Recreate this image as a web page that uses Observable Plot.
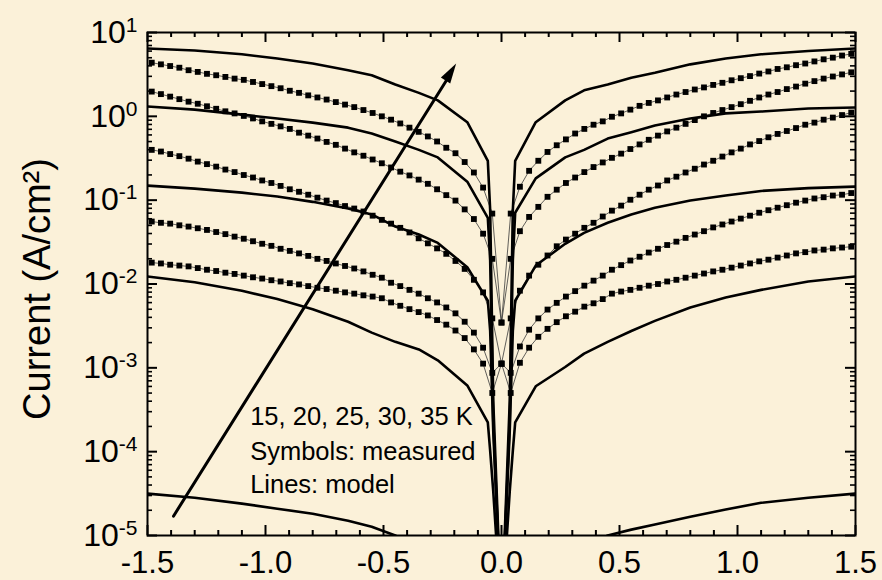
<!DOCTYPE html>
<html>
<head>
<meta charset="utf-8">
<script src="https://cdn.jsdelivr.net/npm/d3@7"></script>
<script src="https://cdn.jsdelivr.net/npm/@observablehq/plot@0.6"></script>
<style>
  html, body { margin: 0; padding: 0; background: #FBF1D9; }
  #chart svg { display: block; }
</style>
</head>
<body>
<div id="chart"></div>
<script>
// ---------------- DATA ----------------
// Bias grid of the measured points (V); the left branch uses -vMeas[k]
const vMeas = [0, 0.039, 0.078, 0.117, 0.156, 0.195, 0.234, 0.273, 0.312, 0.351, 0.39, 0.429, 0.468, 0.507, 0.546, 0.585, 0.624, 0.663, 0.702, 0.741, 0.78, 0.819, 0.858, 0.897, 0.936, 0.975, 1.014, 1.053, 1.092, 1.131, 1.17, 1.209, 1.248, 1.287, 1.326, 1.365, 1.404, 1.443, 1.482];

// Measured current density, log10(A/cm^2), negative-bias branch (index = k of vMeas)
const meas35Left = [-2.46, -1.16, -0.85, -0.67, -0.545, -0.44, -0.375, -0.30, -0.24, -0.185, -0.135, -0.085, -0.04, 0.0, 0.04, 0.075, 0.11, 0.14, 0.17, 0.20, 0.225, 0.25, 0.28, 0.305, 0.335, 0.36, 0.385, 0.41, 0.435, 0.45, 0.47, 0.49, 0.507, 0.53, 0.55, 0.58, 0.60, 0.62, 0.64];
const meas30Left = [-2.46, -1.70, -1.40, -1.225, -1.11, -1.005, -0.94, -0.87, -0.805, -0.755, -0.705, -0.66, -0.61, -0.56, -0.515, -0.47, -0.43, -0.385, -0.34, -0.305, -0.265, -0.23, -0.195, -0.15, -0.12, -0.09, -0.06, -0.025, 0.005, 0.035, 0.06, 0.09, 0.12, 0.15, 0.175, 0.205, 0.235, 0.265, 0.295];
const meas25Left = [-2.95, -2.41, -2.10, -1.95, -1.82, -1.725, -1.64, -1.575, -1.515, -1.455, -1.385, -1.33, -1.28, -1.235, -1.185, -1.135, -1.10, -1.07, -1.035, -1.005, -0.97, -0.935, -0.90, -0.87, -0.83, -0.795, -0.765, -0.73, -0.70, -0.665, -0.635, -0.60, -0.57, -0.54, -0.505, -0.475, -0.45, -0.42, -0.40];
const meas20Left = [-2.95, -3.06, -2.76, -2.58, -2.45, -2.35, -2.28, -2.22, -2.17, -2.115, -2.07, -2.025, -1.985, -1.925, -1.89, -1.85, -1.815, -1.785, -1.755, -1.725, -1.70, -1.665, -1.635, -1.605, -1.58, -1.545, -1.52, -1.49, -1.46, -1.435, -1.405, -1.38, -1.355, -1.335, -1.315, -1.30, -1.28, -1.27, -1.255];
const meas15Left = [-2.95, -3.30, -2.95, -2.78, -2.645, -2.555, -2.485, -2.43, -2.375, -2.335, -2.30, -2.26, -2.22, -2.17, -2.15, -2.135, -2.115, -2.10, -2.08, -2.06, -2.045, -2.025, -2.005, -1.99, -1.97, -1.955, -1.935, -1.92, -1.90, -1.88, -1.865, -1.845, -1.83, -1.81, -1.79, -1.78, -1.77, -1.755, -1.745];

// Measured current density, log10(A/cm^2), positive-bias branch
const meas35Right = [-2.46, -1.16, -0.84, -0.65, -0.53, -0.425, -0.345, -0.275, -0.205, -0.15, -0.10, -0.06, -0.005, 0.035, 0.08, 0.125, 0.16, 0.19, 0.225, 0.26, 0.29, 0.32, 0.345, 0.375, 0.40, 0.43, 0.455, 0.48, 0.51, 0.535, 0.565, 0.585, 0.61, 0.63, 0.655, 0.68, 0.70, 0.725, 0.745];
const meas30Right = [-2.46, -1.70, -1.37, -1.20, -1.08, -0.96, -0.875, -0.795, -0.73, -0.665, -0.605, -0.55, -0.495, -0.445, -0.39, -0.335, -0.28, -0.23, -0.18, -0.135, -0.09, -0.045, 0.0, 0.04, 0.075, 0.11, 0.145, 0.185, 0.225, 0.26, 0.29, 0.325, 0.355, 0.39, 0.42, 0.45, 0.475, 0.50, 0.525];
const meas25Right = [-2.95, -2.41, -2.08, -1.90, -1.77, -1.66, -1.55, -1.47, -1.40, -1.33, -1.27, -1.195, -1.125, -1.065, -0.995, -0.935, -0.875, -0.825, -0.765, -0.72, -0.67, -0.625, -0.575, -0.53, -0.48, -0.43, -0.385, -0.335, -0.295, -0.25, -0.21, -0.175, -0.14, -0.10, -0.075, -0.04, -0.015, 0.015, 0.045];
const meas20Right = [-2.95, -3.06, -2.745, -2.545, -2.41, -2.305, -2.225, -2.15, -2.085, -2.02, -1.96, -1.90, -1.83, -1.775, -1.72, -1.675, -1.625, -1.58, -1.535, -1.495, -1.45, -1.41, -1.37, -1.325, -1.29, -1.255, -1.22, -1.185, -1.15, -1.12, -1.09, -1.06, -1.03, -1.005, -0.98, -0.965, -0.945, -0.935, -0.915];
const meas15Right = [-2.95, -3.30, -2.94, -2.76, -2.63, -2.535, -2.455, -2.385, -2.33, -2.27, -2.23, -2.18, -2.115, -2.09, -2.07, -2.045, -2.02, -2.00, -1.97, -1.95, -1.925, -1.90, -1.875, -1.85, -1.83, -1.805, -1.78, -1.755, -1.73, -1.71, -1.685, -1.66, -1.635, -1.62, -1.60, -1.59, -1.575, -1.565, -1.555];

// Model bias grid (V); left branch uses -vModel[k]
const vModel = [0, 0.035, 0.048, 0.058, 0.145, 0.27, 0.35, 0.45, 0.55, 0.65, 0.8, 0.95, 1.1, 1.3, 1.5];
// Model current density, log10(A/cm^2)
const model35Left  = [-6, -3.39, -1.12, -0.53, -0.07, 0.19, 0.28, 0.38, 0.49, 0.55, 0.63, 0.69, 0.74, 0.785, 0.81];
const model35Right = [-6, -3.39, -1.12, -0.53, -0.07, 0.19, 0.31, 0.38, 0.46, 0.52, 0.62, 0.69, 0.74, 0.78, 0.81];
const model30Left  = [-6, -3.63, -1.72, -1.21, -0.78, -0.49, -0.40, -0.30, -0.205, -0.135, -0.075, -0.025, 0.02, 0.08, 0.117];
const model30Right = [-6, -3.63, -1.72, -1.15, -0.74, -0.49, -0.40, -0.265, -0.19, -0.11, -0.025, 0.035, 0.057, 0.093, 0.105];
const model25Left  = [-6, -3.75, -2.56, -2.20, -1.80, -1.51, -1.41, -1.315, -1.17, -1.10, -1.02, -0.957, -0.91, -0.862, -0.826];
const model25Right = [-6, -3.75, -2.56, -2.20, -1.78, -1.52, -1.39, -1.27, -1.17, -1.09, -1.005, -0.945, -0.89, -0.856, -0.838];
const model20Left  = [-6, -4.47, -3.99, -3.65, -3.21, -2.91, -2.78, -2.69, -2.58, -2.45, -2.30, -2.18, -2.08, -1.98, -1.91];
const model20Right = [-6, -4.47, -3.99, -3.65, -3.22, -2.99, -2.83, -2.69, -2.56, -2.44, -2.28, -2.16, -2.07, -1.97, -1.91];
const model15Left  = [-6.5, -6.3, -6.2, -6.1, -5.77, -5.32, -5.16, -5.0, -4.895, -4.823, -4.74, -4.68, -4.62, -4.55, -4.50];
const model15Right = [-6.5, -6.3, -6.2, -6.1, -5.77, -5.30, -5.13, -5.0, -4.93, -4.87, -4.776, -4.69, -4.61, -4.55, -4.50];

// Arrow (temperature increase), in data units: [start, end]
const arrowV = [-1.39, -0.19];
const arrowJ = [1.7e-5, 4.2];

// Annotation
const annLabels = ["15, 20, 25, 30, 35 K", "Symbols: measured", "Lines: model"];
const annV = -1.065;
const annJ = [2.6e-4, 1.0e-4, 4.0e-5];

// Axes
const xMajor = [-1.5, -1.0, -0.5, 0, 0.5, 1.0, 1.5];
const xTickLabels = ["-1.5", "-1.0", "-0.5", "0.0", "0.5", "1.0", "1.5"];
const xMinor = [-1.4, -1.3, -1.2, -1.1, -0.9, -0.8, -0.7, -0.6, -0.4, -0.3, -0.2, -0.1, 0.1, 0.2, 0.3, 0.4, 0.6, 0.7, 0.8, 0.9, 1.1, 1.2, 1.3, 1.4];
const yMajor = [1e-5, 1e-4, 1e-3, 1e-2, 1e-1, 1, 10];
const yExponents = ["-5", "-4", "-3", "-2", "-1", "0", "1"];
const yLabel = "Current (A/cm²)";

// ---------------- BUILD ----------------
function branchPoints(name, grid, left, right) {
  const pts = [];
  for (let k = grid.length - 1; k >= 1; k--) pts.push({s: name, V: -grid[k], J: 10 ** left[k]});
  pts.push({s: name, V: 0, J: 10 ** left[0]});
  for (let k = 1; k < grid.length; k++) pts.push({s: name, V: grid[k], J: 10 ** right[k]});
  return pts;
}
const measured = [
  ...branchPoints("35K", vMeas, meas35Left, meas35Right),
  ...branchPoints("30K", vMeas, meas30Left, meas30Right),
  ...branchPoints("25K", vMeas, meas25Left, meas25Right),
  ...branchPoints("20K", vMeas, meas20Left, meas20Right),
  ...branchPoints("15K", vMeas, meas15Left, meas15Right)
];
const model = [
  ...branchPoints("35K", vModel, model35Left, model35Right),
  ...branchPoints("30K", vModel, model30Left, model30Right),
  ...branchPoints("25K", vModel, model25Left, model25Right),
  ...branchPoints("20K", vModel, model20Left, model20Right),
  ...branchPoints("15K", vModel, model15Left, model15Right)
];
const yMinor = [];
for (const d of yMajor.slice(0, -1)) for (let m = 2; m <= 9; m++) yMinor.push(d * m);
const arrowData = [{x1: arrowV[0], y1: arrowJ[0], x2: arrowV[1], y2: arrowJ[1]}];
const yTickData = yMajor.map((v, i) => ({v, e: yExponents[i]}));

const W = 882, H = 580, mL = 147, mR = 27, mT = 32, mB = 45;
const PW = W - mL - mR, PH = H - mT - mB;
const FONT = "'Liberation Sans', Arial, Helvetica, sans-serif";

const chart = Plot.plot({
  width: W, height: H,
  marginLeft: mL, marginRight: mR, marginTop: mT, marginBottom: mB,
  style: {background: "transparent", fontFamily: FONT, color: "black", overflow: "visible"},
  x: {domain: [-1.5, 1.5]},
  y: {type: "log", domain: [1e-5, 10], axis: null},
  marks: [
    Plot.line(measured, {x: "V", y: "J", z: "s", stroke: "#3a3a3a", strokeWidth: 0.8, clip: true}),
    Plot.dot(measured, {x: "V", y: "J", symbol: "square", r: 3.3, fill: "black", stroke: "none", clip: true}),
    Plot.line(model, {x: "V", y: "J", z: "s", stroke: "black", strokeWidth: 2.6, clip: true}),
    Plot.arrow(arrowData, {x1: "x1", y1: "y1", x2: "x2", y2: "y2", stroke: "black", strokeWidth: 3, headLength: 0, insetEnd: 12}),
    Plot.text(annLabels, {x: () => annV, y: (d, i) => annJ[i], text: d => d, textAnchor: "start", fontSize: 25.5, fill: "black"}),
    Plot.frame({stroke: "black", strokeWidth: 2}),
    // inward ticks, bottom and top
    Plot.ruleX(xMajor, {x: d => d, insetTop: PH - 10, stroke: "black", strokeWidth: 2}),
    Plot.ruleX(xMajor, {x: d => d, insetBottom: PH - 10, stroke: "black", strokeWidth: 2}),
    Plot.ruleX(xMinor, {x: d => d, insetTop: PH - 5, stroke: "black", strokeWidth: 2}),
    Plot.ruleX(xMinor, {x: d => d, insetBottom: PH - 5, stroke: "black", strokeWidth: 2}),
    // inward ticks, left and right
    Plot.ruleY(yMajor, {y: d => d, insetRight: PW - 10, stroke: "black", strokeWidth: 2}),
    Plot.ruleY(yMajor, {y: d => d, insetLeft: PW - 10, stroke: "black", strokeWidth: 2}),
    Plot.ruleY(yMinor, {y: d => d, insetRight: PW - 5, stroke: "black", strokeWidth: 1.6}),
    Plot.ruleY(yMinor, {y: d => d, insetLeft: PW - 5, stroke: "black", strokeWidth: 1.6}),
    Plot.axisX({ticks: xMajor, tickFormat: (d, i) => xTickLabels[i], tickSize: 0, tickPadding: 15, fontSize: 31, fill: "black", label: null}),
    Plot.text(yTickData, {y: "v", frameAnchor: "left", text: "e", textAnchor: "end", dx: -10, fontSize: 32, fill: "black", ariaDescription: "ytick-label"}),
    Plot.text([yLabel], {frameAnchor: "left", text: d => d, rotate: -90, textAnchor: "middle", dx: -110, dy: 5, fontSize: 38, fill: "black"})
  ]
});

// Filled arrowhead at the end of the arrow, oriented along the arrow in screen space
(function addArrowHead() {
  const sx = chart.scale("x"), sy = chart.scale("y");
  const x1 = sx.apply(arrowV[0]), y1 = sy.apply(arrowJ[0]);
  const x2 = sx.apply(arrowV[1]), y2 = sy.apply(arrowJ[1]);
  const L = Math.hypot(x2 - x1, y2 - y1), ux = (x2 - x1) / L, uy = (y2 - y1) / L;
  const len = 20, half = 5.5;
  const bx = x2 - ux * len, by = y2 - uy * len;
  const pts = [[x2, y2], [bx - uy * half, by + ux * half], [bx + uy * half, by - ux * half]];
  const p = document.createElementNS("http://www.w3.org/2000/svg", "polygon");
  p.setAttribute("points", pts.map(q => q.join(",")).join(" "));
  p.setAttribute("fill", "black");
  chart.appendChild(p);
})();

// Build "10" + superscript exponent for the y tick labels
const expSet = new Set(yExponents);
chart.querySelectorAll("text").forEach(t => {
  const g = t.closest("g");
  const tagged = g && g.getAttribute("aria-description") === "ytick-label";
  if (!tagged && !expSet.has(t.textContent)) return;
  const exp = t.textContent;
  t.textContent = "10";
  const ts = document.createElementNS("http://www.w3.org/2000/svg", "tspan");
  ts.setAttribute("dy", "-11");
  ts.setAttribute("font-size", "21");
  ts.textContent = exp;
  t.appendChild(ts);
});

document.getElementById("chart").appendChild(chart);
</script>
</body>
</html>
